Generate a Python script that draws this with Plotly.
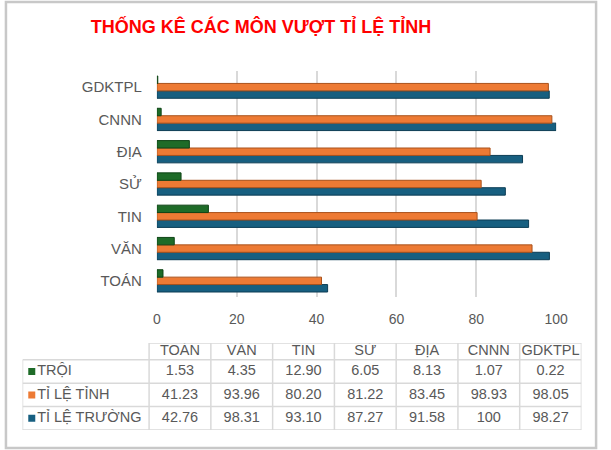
import plotly.graph_objects as go

categories = ["TOÁN", "VĂN", "TIN", "SỬ", "ĐỊA", "CNNN", "GDKTPL"]
troi = [1.53, 4.35, 12.90, 6.05, 8.13, 1.07, 0.22]
ti_le_tinh = [41.23, 93.96, 80.20, 81.22, 83.45, 98.93, 98.05]
ti_le_truong = [42.76, 98.31, 93.10, 87.27, 91.58, 100, 98.27]
troi_text = ["1.53", "4.35", "12.90", "6.05", "8.13", "1.07", "0.22"]
tinh_text = ["41.23", "93.96", "80.20", "81.22", "83.45", "98.93", "98.05"]
truong_text = ["42.76", "98.31", "93.10", "87.27", "91.58", "100", "98.27"]
series_names = ["TRỘI", "TỈ LỆ TỈNH", "TỈ LỆ TRƯỜNG"]
x_ticks = [0, 20, 40, 60, 80, 100]

colors = {"TRỘI": "#1e6b28", "TỈ LỆ TỈNH": "#ed7a34", "TỈ LỆ TRƯỜNG": "#175f80"}
edge = {"TRỘI": "#0f4416", "TỈ LỆ TỈNH": "#a9521c", "TỈ LỆ TRƯỜNG": "#0c3d55"}

W, H = 611, 450
FONT = "Liberation Sans, Arial, sans-serif"
TXT = "#595959"
GRID = "#d9d9d9"

fig = go.Figure()

# bars: first trace drawn at bottom of each group
for name, vals in [("TỈ LỆ TRƯỜNG", ti_le_truong), ("TỈ LỆ TỈNH", ti_le_tinh), ("TRỘI", troi)]:
    fig.add_trace(go.Bar(
        y=categories, x=vals, orientation="h", name=name,
        marker=dict(color=colors[name], line=dict(color=edge[name], width=1)),
        showlegend=False, hoverinfo="x+y",
    ))

# ---- data table on a second, hidden axis pair ----
label_w = 130 / 63.43  # width of label column in column units
hdr_h = 0.72
row_vals = [troi_text, tinh_text, truong_text]

fig.add_trace(go.Scatter(
    x=[i + 0.5 for i in range(len(categories))], y=[hdr_h / 2] * len(categories),
    text=categories, mode="text", textposition="middle center",
    textfont=dict(family=FONT, size=14.5, color=TXT),
    xaxis="x2", yaxis="y2", showlegend=False, hoverinfo="skip",
))
for r, (name, vals) in enumerate(zip(series_names, row_vals)):
    yc = hdr_h + r + 0.5
    fig.add_trace(go.Scatter(
        x=[i + 0.5 for i in range(len(categories))], y=[yc] * len(categories),
        text=vals, mode="text", textposition="middle center",
        textfont=dict(family=FONT, size=14.5, color=TXT),
        xaxis="x2", yaxis="y2", showlegend=False, hoverinfo="skip",
    ))
    fig.add_trace(go.Scatter(
        x=[-label_w + 0.15], y=[yc], text=[name], mode="markers+text",
        textposition="middle right",
        marker=dict(symbol="square", size=7, color=colors[name]),
        textfont=dict(family=FONT, size=14.5, color=TXT),
        xaxis="x2", yaxis="y2", showlegend=False, hoverinfo="skip",
    ))

shapes = []
n = len(categories)
bottom = hdr_h + 3
shapes.append(dict(type="line", xref="x2", yref="y2", x0=0, x1=n, y0=0, y1=0,
                   line=dict(color=GRID, width=1.5)))
for k in range(4):
    yy = hdr_h + k
    shapes.append(dict(type="line", xref="x2", yref="y2", x0=-label_w, x1=n, y0=yy, y1=yy,
                       line=dict(color=GRID, width=1.5)))
shapes.append(dict(type="line", xref="x2", yref="y2", x0=-label_w, x1=-label_w, y0=hdr_h, y1=bottom,
                   line=dict(color=GRID, width=1.5)))
for c in range(n + 1):
    shapes.append(dict(type="line", xref="x2", yref="y2", x0=c, x1=c, y0=0, y1=bottom,
                       line=dict(color=GRID, width=1.5)))
# outer chart border
shapes.append(dict(type="rect", xref="paper", yref="paper", x0=2 / W, x1=608 / W,
                   y0=2 / H, y1=1 - 2 / H, line=dict(color="#c8c8c8", width=2.5), layer="above"))

fig.update_layout(
    width=W, height=H,
    margin=dict(l=0, r=0, t=0, b=0),
    paper_bgcolor="white", plot_bgcolor="white",
    barmode="group", bargap=0.31, bargroupgap=0,
    title=dict(text="<b>THỐNG KÊ CÁC MÔN VƯỢT TỈ LỆ TỈNH</b>", x=261 / W, xanchor="center",
               y=1 - 27 / H, yanchor="middle",
               font=dict(family=FONT, size=18, color="#ff0000")),
    font=dict(family=FONT, color=TXT),
    xaxis=dict(domain=[157 / W, 567 / W], range=[0, 100], tickvals=x_ticks,
               showgrid=True, gridcolor=GRID, gridwidth=1.5, zeroline=False,
               ticks="outside", ticklen=9, tickcolor="rgba(0,0,0,0)",
               tickfont=dict(family=FONT, size=14, color=TXT), showline=False,
               fixedrange=True),
    yaxis=dict(domain=[1 - 297 / H, 1 - 71 / H], categoryorder="array", categoryarray=categories,
               ticks="outside", ticklen=11, tickcolor="rgba(0,0,0,0)",
               tickfont=dict(family=FONT, size=15, color=TXT), showline=False,
               showgrid=False, fixedrange=True),
    xaxis2=dict(domain=[19 / W, 593 / W], range=[-label_w, n], visible=False, fixedrange=True),
    yaxis2=dict(domain=[1 - 430 / H, 1 - 343 / H], range=[bottom, 0], visible=False, fixedrange=True),
    shapes=shapes,
)

fig.write_html("out.html", config={"displayModeBar": False},
               post_script="document.body.style.margin='0';document.body.style.overflow='hidden';")
